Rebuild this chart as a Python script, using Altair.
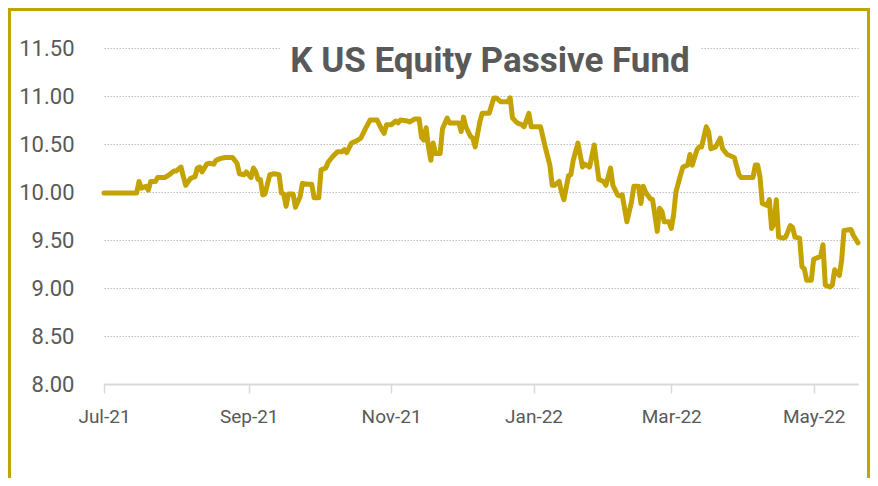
import altair as alt
import pandas as pd

dates = [
    "2021-07-01", "2021-07-15", "2021-07-16", "2021-07-17", "2021-07-19", "2021-07-20", "2021-07-21",
    "2021-07-23", "2021-07-24", "2021-07-27", "2021-07-29", "2021-07-31", "2021-08-01", "2021-08-03",
    "2021-08-04", "2021-08-05", "2021-08-07", "2021-08-09", "2021-08-10", "2021-08-11", "2021-08-12",
    "2021-08-14", "2021-08-15", "2021-08-17", "2021-08-18", "2021-08-20", "2021-08-22", "2021-08-25",
    "2021-08-27", "2021-08-28", "2021-08-30", "2021-08-31", "2021-09-02", "2021-09-03", "2021-09-04",
    "2021-09-05", "2021-09-06", "2021-09-07", "2021-09-08", "2021-09-10", "2021-09-12", "2021-09-14",
    "2021-09-15", "2021-09-16", "2021-09-17", "2021-09-18", "2021-09-20", "2021-09-21", "2021-09-23",
    "2021-09-24", "2021-09-26", "2021-09-28", "2021-09-29", "2021-10-01", "2021-10-02", "2021-10-04",
    "2021-10-05", "2021-10-07", "2021-10-09", "2021-10-11", "2021-10-12", "2021-10-13", "2021-10-15",
    "2021-10-17", "2021-10-19", "2021-10-21", "2021-10-23", "2021-10-26", "2021-10-28", "2021-10-29",
    "2021-10-30", "2021-11-01", "2021-11-03", "2021-11-04", "2021-11-05", "2021-11-08", "2021-11-09",
    "2021-11-11", "2021-11-13", "2021-11-14", "2021-11-15", "2021-11-16", "2021-11-17", "2021-11-18",
    "2021-11-19", "2021-11-20", "2021-11-22", "2021-11-23", "2021-11-25", "2021-11-26", "2021-11-28",
    "2021-11-30", "2021-12-01", "2021-12-02", "2021-12-03", "2021-12-05", "2021-12-06", "2021-12-07",
    "2021-12-09", "2021-12-10", "2021-12-13", "2021-12-15", "2021-12-16", "2021-12-18", "2021-12-21",
    "2021-12-22", "2021-12-23", "2021-12-25", "2021-12-27", "2021-12-28", "2021-12-30", "2021-12-31",
    "2022-01-02", "2022-01-04", "2022-01-06", "2022-01-08", "2022-01-09", "2022-01-10", "2022-01-12",
    "2022-01-13", "2022-01-14", "2022-01-16", "2022-01-17", "2022-01-18", "2022-01-20", "2022-01-22",
    "2022-01-23", "2022-01-25", "2022-01-27", "2022-01-29", "2022-01-31", "2022-02-01", "2022-02-03",
    "2022-02-04", "2022-02-06", "2022-02-07", "2022-02-08", "2022-02-09", "2022-02-10", "2022-02-12",
    "2022-02-13", "2022-02-15", "2022-02-16", "2022-02-17", "2022-02-18", "2022-02-20", "2022-02-21",
    "2022-02-22", "2022-02-23", "2022-02-24", "2022-02-25", "2022-02-26", "2022-02-28", "2022-03-01",
    "2022-03-02", "2022-03-03", "2022-03-05", "2022-03-06", "2022-03-07", "2022-03-08", "2022-03-09",
    "2022-03-10", "2022-03-12", "2022-03-13", "2022-03-14", "2022-03-16", "2022-03-17", "2022-03-18",
    "2022-03-20", "2022-03-22", "2022-03-23", "2022-03-25", "2022-03-27", "2022-03-28", "2022-03-30",
    "2022-03-31", "2022-04-04", "2022-04-05", "2022-04-06", "2022-04-07", "2022-04-08", "2022-04-09",
    "2022-04-11", "2022-04-12", "2022-04-13", "2022-04-14", "2022-04-15", "2022-04-16", "2022-04-18",
    "2022-04-19", "2022-04-21", "2022-04-22", "2022-04-23", "2022-04-25", "2022-04-26", "2022-04-27",
    "2022-04-28", "2022-04-30", "2022-05-01", "2022-05-02", "2022-05-04", "2022-05-05", "2022-05-06",
    "2022-05-08", "2022-05-09", "2022-05-10", "2022-05-12", "2022-05-13", "2022-05-14", "2022-05-17",
    "2022-05-18", "2022-05-20",
]

nav = [
    9.99, 9.99, 10.11, 10.04, 10.06, 10.02, 10.11,
    10.11, 10.15, 10.15, 10.18, 10.22, 10.22, 10.26,
    10.16, 10.07, 10.14, 10.16, 10.25, 10.26, 10.21,
    10.29, 10.30, 10.29, 10.33, 10.35, 10.36, 10.36,
    10.30, 10.19, 10.18, 10.21, 10.15, 10.25, 10.21,
    10.13, 10.13, 9.97, 9.98, 10.18, 10.19, 10.18,
    9.99, 9.98, 9.85, 9.98, 9.98, 9.84, 9.95,
    10.09, 10.08, 10.08, 9.94, 9.94, 10.23, 10.25,
    10.31, 10.37, 10.42, 10.42, 10.44, 10.41, 10.51,
    10.53, 10.56, 10.66, 10.75, 10.75, 10.65, 10.61,
    10.70, 10.70, 10.74, 10.72, 10.75, 10.74, 10.73,
    10.76, 10.76, 10.57, 10.54, 10.67, 10.47, 10.33,
    10.51, 10.40, 10.40, 10.66, 10.77, 10.72, 10.72,
    10.72, 10.63, 10.78, 10.68, 10.58, 10.56, 10.47,
    10.73, 10.82, 10.82, 10.98, 10.98, 10.94, 10.94,
    10.98, 10.77, 10.72, 10.70, 10.68, 10.82, 10.68,
    10.68, 10.68, 10.47, 10.28, 10.07, 10.07, 10.11,
    10.00, 9.92, 10.17, 10.18, 10.33, 10.51, 10.26,
    10.29, 10.26, 10.49, 10.13, 10.11, 10.07, 10.25,
    10.07, 9.97, 9.96, 9.97, 9.83, 9.69, 9.90,
    10.06, 10.06, 9.88, 10.06, 10.00, 9.93, 9.92,
    9.76, 9.59, 9.83, 9.80, 9.69, 9.69, 9.62,
    9.76, 10.00, 10.18, 10.26, 10.27, 10.28, 10.39,
    10.28, 10.44, 10.47, 10.47, 10.68, 10.63, 10.45,
    10.47, 10.56, 10.45, 10.39, 10.37, 10.36, 10.18,
    10.15, 10.15, 10.15, 10.28, 10.28, 10.16, 9.88,
    9.86, 9.92, 9.62, 9.67, 9.92, 9.53, 9.52,
    9.53, 9.65, 9.63, 9.53, 9.52, 9.22, 9.20,
    9.08, 9.08, 9.30, 9.31, 9.33, 9.45, 9.03,
    9.01, 9.03, 9.19, 9.13, 9.29, 9.60, 9.61,
    9.55, 9.47,
]

y_ticks = [8.0, 8.5, 9.0, 9.5, 10.0, 10.5, 11.0, 11.5]
x_tick_months = [(2021, 7), (2021, 9), (2021, 11), (2022, 1), (2022, 3), (2022, 5)]
title_text = "K US Equity Passive Fund"

GOLD = "#C4A300"
TEXT = "#595959"
AXIS = "#D9D9D9"

df = pd.DataFrame({"date": pd.to_datetime(dates), "nav": nav})
one = pd.DataFrame({"k": [0]})

W, H = 754, 336

frame = alt.Chart(one).mark_rect(filled=False, stroke=GOLD, strokeWidth=3).encode(
    x=alt.value(-94.5), x2=alt.value(764.5), y=alt.value(-38.5), y2=alt.value(520)
)

line = alt.Chart(df).mark_line(
    color=GOLD, strokeWidth=5, strokeJoin="round", strokeCap="round"
).encode(
    x=alt.X(
        "date:T",
        scale=alt.Scale(
            domain=[alt.DateTime(year=2021, month=7, date=1), alt.DateTime(year=2022, month=5, date=20)]
        ),
        axis=alt.Axis(
            values=[alt.DateTime(year=y, month=m, date=1) for y, m in x_tick_months],
            format="%b-%y",
            title=None,
            grid=False,
            domainColor=AXIS,
            domainWidth=2,
            tickColor=AXIS,
            tickWidth=1.5,
            tickSize=9,
            labelPadding=14,
            labelFlush=False,
            labelOverlap=False,
            labelFont="Roboto",
            labelFontSize=19,
            labelColor=TEXT,
        ),
    ),
    y=alt.Y(
        "nav:Q",
        scale=alt.Scale(domain=[8, 11.5], nice=False, zero=False),
        axis=alt.Axis(
            values=y_ticks,
            format=".2f",
            title=None,
            grid=True,
            gridDash=[1.5, 1.5],
            gridColor="#BFBFBF",
            gridWidth=1,
            domain=False,
            ticks=False,
            labelPadding=30,
            labelFont="Roboto",
            labelFontSize=22,
            labelColor=TEXT,
        ),
    ),
)

cover = alt.Chart(one).mark_rect(color="white").encode(
    x=alt.value(176), x2=alt.value(596), y=alt.value(-3), y2=alt.value(3)
)

title = alt.Chart(one).mark_text(
    text=title_text, font="Roboto", fontSize=35, fontWeight="bold", color=TEXT,
    align="center", baseline="alphabetic"
).encode(x=alt.value(386), y=alt.value(24))

chart = alt.layer(line, frame, cover, title).properties(
    width=W, height=H,
    autosize=alt.AutoSizeParams(type="none"),
    padding={"left": 96, "top": 40, "right": 12, "bottom": 94},
    background="white",
).configure_view(stroke=None)

chart.save("out.html", embed_options={"renderer": "svg", "actions": False})
